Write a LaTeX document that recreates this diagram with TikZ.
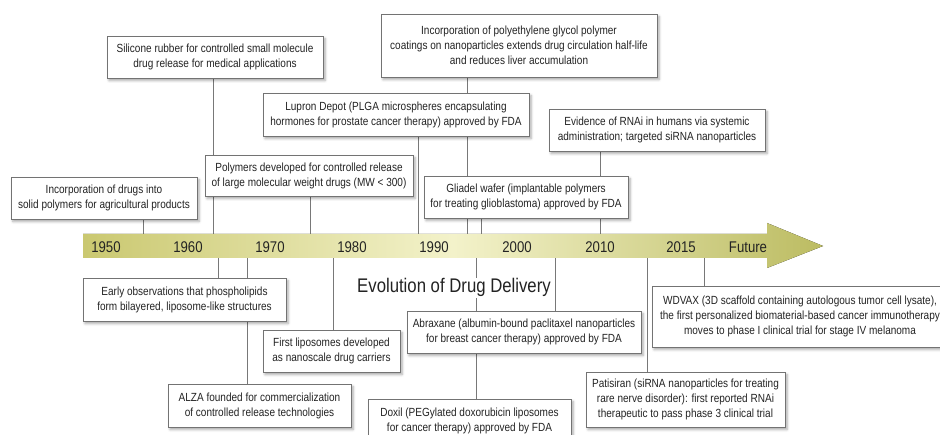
\documentclass[tikz,border=0pt]{standalone}
\usepackage{fontspec}
\setmainfont{Liberation Sans}[FakeStretch=0.85]
\usetikzlibrary{shadows.blur}
\definecolor{oliveL}{RGB}{202,200,112}
\definecolor{paleY}{RGB}{243,242,202}
\definecolor{oliveR}{RGB}{188,188,98}
\definecolor{linegray}{RGB}{120,120,120}
\definecolor{txt}{RGB}{35,35,35}
\pgfdeclarelayer{bg}
\pgfsetlayers{bg,main}
\begin{document}
\begin{tikzpicture}[x=1pt,y=-1pt,
 evbox/.style={draw=black!55, line width=0.8pt, fill=white, inner sep=0pt, align=center, text=txt,
   font=\fontsize{11.8}{15}\selectfont,
   blur shadow={shadow xshift=2pt,shadow yshift=-2.5pt,shadow blur radius=2.5pt,shadow opacity=35}},
 conn/.style={draw=linegray, line width=0.8pt},
 yearlbl/.style={anchor=base, text=txt, font=\fontsize{15.5}{18}\selectfont, inner sep=0pt},
]
\useasboundingbox (0,0) rectangle (940,435);
\clip (0,0) rectangle (940,435);

% timeline band
\fill[left color=oliveL, right color=oliveR, middle color=paleY]
  (83,234) -- (767,234) -- (767,223) -- (823,246) -- (767,268) -- (767,258) -- (83,258) -- cycle;

\foreach \yr/\xx in {1950/106,1960/188,1970/270,1980/352,1990/434,2000/517,2010/600,2015/681,Future/748}
  \node[yearlbl] (y\yr) at (\xx,253) {\yr};

% boxes above
\node[evbox, minimum width=216pt, minimum height=42pt] (sil) at (215,57)
  {Silicone rubber for controlled small molecule\\drug release for medical applications};
\node[evbox, minimum width=276pt, minimum height=63pt] (peg) at (519,45.5)
  {Incorporation of polyethylene glycol polymer\\coatings on nanoparticles extends drug circulation half-life\\and reduces liver accumulation};
\node[evbox, minimum width=266pt, minimum height=43pt] (lup) at (396,114.5)
  {Lupron Depot (PLGA microspheres encapsulating\\hormones for prostate cancer therapy) approved by FDA};
\node[evbox, minimum width=216pt, minimum height=42pt] (evi) at (657,130)
  {Evidence of RNAi in humans via systemic\\administration; targeted siRNA nanoparticles};
\node[evbox, minimum width=186pt, minimum height=42pt] (inc) at (104,198)
  {Incorporation of drugs into\\solid polymers for agricultural products};
\node[evbox, minimum width=208pt, minimum height=41pt] (pol) at (309,175.5)
  {Polymers developed for controlled release\\of large molecular weight drugs (MW < 300)};
\node[evbox, minimum width=204pt, minimum height=42pt] (gli) at (526,197)
  {Gliadel wafer (implantable polymers\\for treating glioblastoma) approved by FDA};

% title
\node[anchor=base, fill=white, inner sep=1pt, text=txt, font=\fontsize{19.7}{22}\selectfont] (title) at (454,293)
  {Evolution of Drug Delivery};

% boxes below
\node[evbox, minimum width=203pt, minimum height=43pt] (early) at (184.5,299.5)
  {Early observations that phospholipids\\form bilayered, liposome-like structures};
\node[evbox, minimum width=137pt, minimum height=42pt] (lipo) at (331.5,351)
  {First liposomes developed\\as nanoscale drug carriers};
\node[evbox, minimum width=183pt, minimum height=43pt] (alza) at (259.5,405.5)
  {ALZA founded for commercialization\\of controlled release technologies};
\node[evbox, minimum width=234pt, minimum height=42pt] (abx) at (524,332)
  {Abraxane (albumin-bound paclitaxel nanoparticles\\for breast cancer therapy) approved by FDA};
\node[evbox, minimum width=203pt, minimum height=43pt] (dox) at (469.5,420.5)
  {Doxil (PEGylated doxorubicin liposomes\\for cancer therapy) approved by FDA};
\node[evbox, minimum width=199pt, minimum height=55pt] (pat) at (685.5,399.5)
  {Patisiran (siRNA nanoparticles for treating\\rare nerve disorder): first reported RNAi\\therapeutic to pass phase 3 clinical trial};
\node[evbox, minimum width=296pt, minimum height=61pt] (wdv) at (800,316.5)
  {WDVAX (3D scaffold containing autologous tumor cell lysate),\\the first personalized biomaterial-based cancer immunotherapy\\moves to phase I clinical trial for stage IV melanoma};

% connector anchor points on the band
\coordinate (tInc) at (143,234);
\coordinate (tSil) at (213,234);
\coordinate (tPol) at (310,234);
\coordinate (tLup) at (418,234);
\coordinate (tPeg) at (467,234);
\coordinate (tGli) at (481,234);
\coordinate (tEvi) at (600,234);
\coordinate (bEarly) at (218,258);
\coordinate (bAlza) at (247,258);
\coordinate (bLipo) at (333,258);
\coordinate (bDox) at (476,258);
\coordinate (bAbx) at (555,258);
\coordinate (bPat) at (647,258);
\coordinate (bWdv) at (704,258);

\begin{pgfonlayer}{bg}
\draw[conn] (inc.south -| tInc) -- (tInc);
\draw[conn] (sil.south -| tSil) -- (tSil);
\draw[conn] (pol.south -| tPol) -- (tPol);
\draw[conn] (lup.south -| tLup) -- (tLup);
\draw[conn] (peg.south -| tPeg) -- (tPeg);
\draw[conn] (gli.south -| tGli) -- (tGli);
\draw[conn] (evi.south -| tEvi) -- (tEvi);
\draw[conn] (bEarly) -- (early.north -| bEarly);
\draw[conn] (bAlza) -- (alza.north -| bAlza);
\draw[conn] (bLipo) -- (lipo.north -| bLipo);
\draw[conn] (bDox) -- (dox.north -| bDox);
\draw[conn] (bAbx) -- (abx.north -| bAbx);
\draw[conn] (bPat) -- (pat.north -| bPat);
\draw[conn] (bWdv) -- (wdv.north -| bWdv);
\end{pgfonlayer}
\end{tikzpicture}
\end{document}
